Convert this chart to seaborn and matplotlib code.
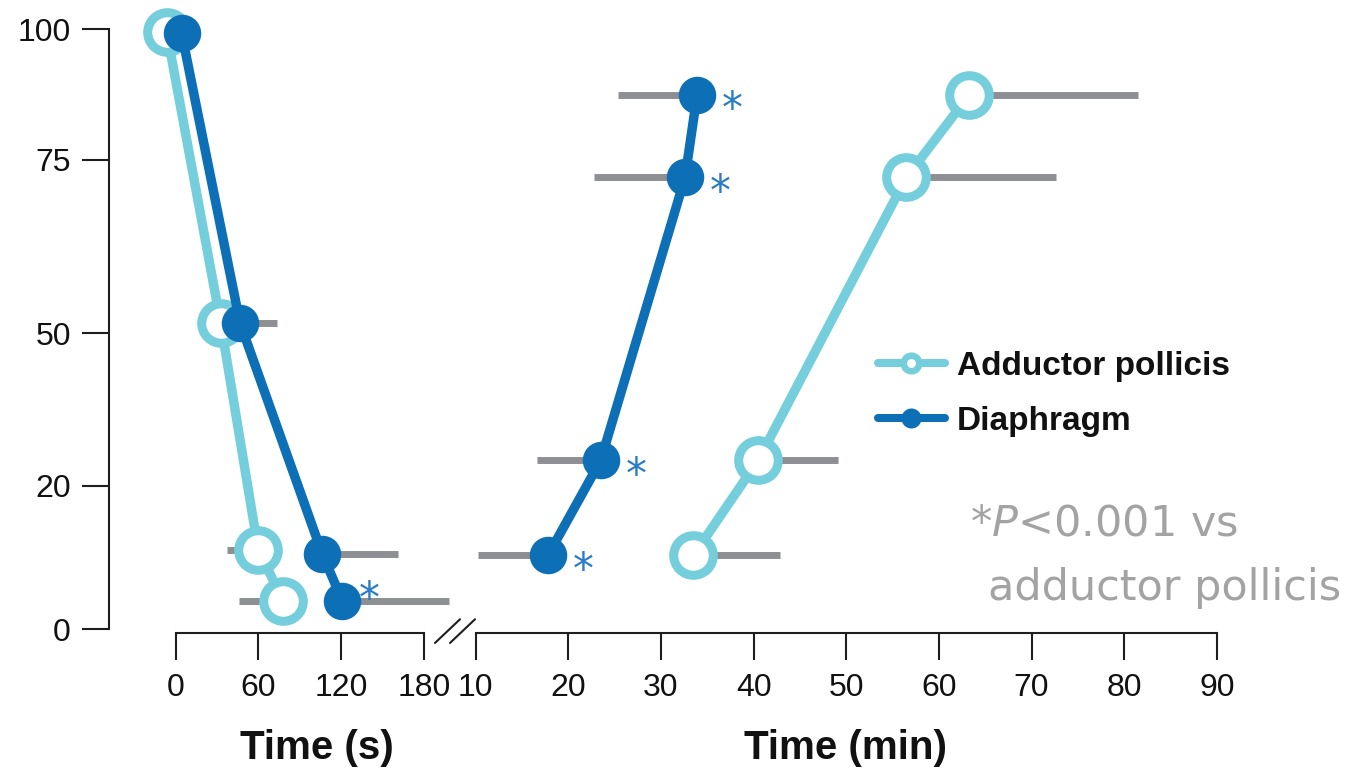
import numpy as np
import pandas as pd
import matplotlib
matplotlib.use("Agg")
import matplotlib.pyplot as plt
from matplotlib.lines import Line2D
import seaborn as sns

# ---- Onset of block (seconds) ------------------------------------------
onset_ap_time = [-6.5, 32.6, 59.9, 78.0]      # adductor pollicis
onset_ap_pct = [99.5, 51.5, 11.0, 4.0]
onset_ap_err = [0.0, 0.0, 23.0, 32.0]         # SD, drawn to the left

onset_di_time = [4.3, 46.6, 106.2, 120.7]     # diaphragm
onset_di_pct = [99.3, 51.5, 10.5, 4.0]
onset_di_err = [0.0, 26.6, 55.0, 77.0]        # SD, drawn to the right
onset_di_sig = [False, False, False, True]

# ---- Recovery (minutes) -------------------------------------------------
recov_pct = [10.3, 25.0, 72.5, 87.5]
recov_di_time = [17.8, 23.5, 32.6, 33.9]
recov_di_err = [7.6, 6.9, 9.8, 8.5]           # SD, drawn to the left
recov_di_sig = [True, True, True, True]
recov_ap_time = [33.5, 40.5, 56.5, 63.3]
recov_ap_err = [9.4, 8.6, 16.1, 18.2]         # SD, drawn to the right

y_ticks = [0, 20, 50, 75, 100]
onset_ticks = [0, 60, 120, 180]
recov_ticks = [10, 20, 30, 40, 50, 60, 70, 80, 90]
series_labels = ["Adductor pollicis", "Diaphragm"]

AP = "#74CEDC"
DI = "#0D6FB6"
GRAY = "#8E8F93"
STAR = "#2A7CC4"
INK = "#1E1E1E"
TXT = "#111111"
NOTE = "#A3A3A3"

# Piecewise-linear vertical scale (unequal spacing between tick values)
_knot_val = [-20, 0, 20, 50, 75, 100, 125]
_knot_pos = [-143.6, 0.0, 143.6, 296.0, 469.3, 599.8, 730.3]


def y_forward(v):
    return np.interp(v, _knot_val, _knot_pos)


def y_inverse(p):
    return np.interp(p, _knot_pos, _knot_val)


sns.set_style("ticks")
plt.rcParams["font.family"] = ["Liberation Sans", "DejaVu Sans"]
plt.rcParams["mathtext.fontset"] = "dejavusans"

fig = plt.figure(figsize=(13.68, 7.68), dpi=100)
ax1 = fig.add_axes([0.07968, 0.1762, 0.24196, 0.7978])
ax2 = fig.add_axes([0.33626, 0.1762, 0.56287, 0.7978], sharey=ax1)
for ax in (ax1, ax2):
    ax.set_yscale("function", functions=(y_forward, y_inverse))
    ax.set_facecolor("none")

ax1.set_ylim(-0.47, 101.8)
ax1.set_xlim(-48.3, 191.5)
ax2.set_xlim(8.3, 91.43)


def draw_series(ax, t, pct, err_lo, err_hi, color, filled):
    ax.errorbar(t, pct, xerr=[err_lo, err_hi], fmt="none", ecolor=GRAY,
                elinewidth=5, capsize=0, zorder=1, clip_on=False)
    df = pd.DataFrame({"t": t, "pct": pct})
    if filled:
        mk = dict(markersize=27, markerfacecolor=color,
                  markeredgecolor=color, markeredgewidth=0)
    else:
        mk = dict(markersize=28.5, markerfacecolor="white",
                  markeredgecolor=color, markeredgewidth=6.5)
    sns.lineplot(data=df, x="t", y="pct", ax=ax, color=color, linewidth=6.8,
                 marker="o", estimator=None, sort=False, clip_on=False,
                 zorder=3, **mk)


def draw_stars(ax, t, pct, sig, dx, dy):
    for x, y, s in zip(t, pct, sig):
        if s:
            ax.annotate("*", xy=(x, y), xytext=(dx, dy),
                        textcoords="offset pixels", ha="center",
                        va="baseline", fontsize=30, color=STAR,
                        family="DejaVu Sans", zorder=4,
                        annotation_clip=False)


zeros = [0.0] * 4
# onset panel
draw_series(ax1, onset_ap_time, onset_ap_pct, onset_ap_err, zeros, AP, False)
draw_series(ax1, onset_di_time, onset_di_pct, zeros, onset_di_err, DI, True)
draw_stars(ax1, onset_di_time, onset_di_pct, onset_di_sig, 27, -11.8)

# recovery panel
draw_series(ax2, recov_ap_time, recov_pct, zeros, recov_ap_err, AP, False)
draw_series(ax2, recov_di_time, recov_pct, recov_di_err, zeros, DI, True)
draw_stars(ax2, recov_di_time, recov_pct, recov_di_sig, 35, -27.8)

# axes styling
for ax in (ax1, ax2):
    for side in ("top", "right"):
        ax.spines[side].set_visible(False)
    for sp in ax.spines.values():
        sp.set_color(INK)
        sp.set_linewidth(1.5)
    ax.tick_params(axis="both", direction="out", length=19.4, width=1.5,
                   color=INK, labelcolor=TXT, labelsize=23)
    ax.tick_params(axis="x", pad=9.5)
    ax.tick_params(axis="y", pad=8.0)
    ax.set_ylabel("")

ax1.spines["left"].set_bounds(0, 100)
ax1.spines["bottom"].set_bounds(0, 180)
ax1.set_yticks(y_ticks)
ax1.set_yticklabels([str(v) for v in y_ticks])
ax1.set_xticks(onset_ticks)
ax1.set_xticklabels([str(v) for v in onset_ticks])

ax2.spines["left"].set_visible(False)
ax2.spines["bottom"].set_bounds(10, 90)
ax2.set_xticks(recov_ticks)
ax2.set_xticklabels([str(v) for v in recov_ticks])
ax2.tick_params(axis="y", left=False, labelleft=False)

label_font = dict(family="Liberation Sans", weight="bold", size=29,
                  color=TXT)
ax1.set_xlabel("Time (s)", va="baseline", **label_font)
ax1.xaxis.set_label_coords(0.628, -0.206)
ax2.set_xlabel("Time (min)", va="baseline", **label_font)
ax2.xaxis.set_label_coords(0.5, -0.206)

# axis-break marks between the two panels
for x0 in (-0.0325, -0.013):
    ax2.add_line(Line2D([x0, x0 + 0.0325], [-0.0168, 0.0219],
                        transform=ax2.transAxes, color=INK, lw=1.5,
                        clip_on=False))

# legend
handles = [
    Line2D([], [], color=AP, lw=5.8, marker="o", markersize=11.2,
           markerfacecolor="white", markeredgecolor=AP, markeredgewidth=4.7),
    Line2D([], [], color=DI, lw=5.8, marker="o", markersize=14.4,
           markerfacecolor=DI, markeredgecolor=DI, markeredgewidth=0),
]
leg = fig.legend(handles, series_labels, loc="center left",
                 bbox_to_anchor=(878 / 1368, 1 - 394 / 768), frameon=False,
                 prop=dict(family="Liberation Sans", weight="bold", size=24),
                 handlelength=2.0, handletextpad=0.36, labelspacing=0.72,
                 borderpad=0, borderaxespad=0)
for t in leg.get_texts():
    t.set_color(TXT)

# significance note
fig.text(970 / 1368, 1 - 535 / 768, r"*$\mathit{P}$<0.001 vs",
         family="DejaVu Sans", size=31, color=NOTE, ha="left", va="baseline")
fig.text(988 / 1368, 1 - 600 / 768, "adductor pollicis",
         family="DejaVu Sans", size=31, color=NOTE, ha="left", va="baseline")

fig.savefig("out.png", dpi=100)
